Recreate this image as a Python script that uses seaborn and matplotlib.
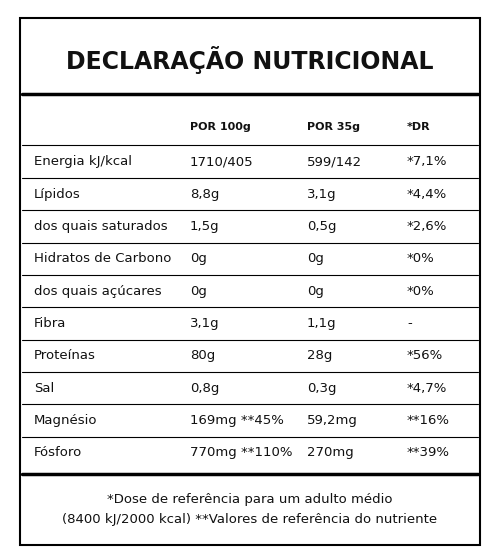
import matplotlib
matplotlib.use("Agg")
import matplotlib.pyplot as plt
import seaborn as sns

sns.set_theme(style="white")
plt.rcParams['font.family'] = ['Liberation Sans Narrow', 'DejaVu Sans']

title = "DECLARAÇÃO NUTRICIONAL"
headers = ["POR 100g", "POR 35g", "*DR"]
nutrients = ["Energia kJ/kcal", "Lípidos", "dos quais saturados", "Hidratos de Carbono",
             "dos quais açúcares", "Fibra", "Proteínas", "Sal", "Magnésio", "Fósforo"]
per100 = ["1710/405", "8,8g", "1,5g", "0g", "0g", "3,1g", "80g", "0,8g", "169mg **45%", "770mg **110%"]
per35 = ["599/142", "3,1g", "0,5g", "0g", "0g", "1,1g", "28g", "0,3g", "59,2mg", "270mg"]
dr = ["*7,1%", "*4,4%", "*2,6%", "*0%", "*0%", "-", "*56%", "*4,7%", "**16%", "**39%"]
footnote = ["*Dose de referência para um adulto médio",
            "(8400 kJ/2000 kcal) **Valores de referência do nutriente"]

fig = plt.figure(figsize=(5, 5.6), dpi=100)
ax = fig.add_axes([0, 0, 1, 1])
ax.set_xlim(0, 500)
ax.set_ylim(560, 0)
ax.axis("off")

ax.add_patch(plt.Rectangle((20, 18), 460, 527, fill=False, lw=1.5, color="black"))
ax.text(250, 60, title, ha="center", va="center", fontsize=17, fontweight="bold", color="#111")
ax.plot([22, 478], [94, 94], color="black", lw=2.5)

cols = [190, 307, 407]
for x, h in zip(cols, headers):
    ax.text(x, 127, h, ha="left", va="center", fontsize=8, fontweight="bold", color="#111")
ax.plot([22, 478], [145, 145], color="black", lw=0.8)

y0, dy = 162, 32.3
for i, name in enumerate(nutrients):
    y = y0 + i * dy
    ax.text(34, y, name, ha="left", va="center", fontsize=9.5, color="#111")
    ax.text(cols[0], y, per100[i], ha="left", va="center", fontsize=9.5, color="#111")
    ax.text(cols[1], y, per35[i], ha="left", va="center", fontsize=9.5, color="#111")
    ax.text(cols[2], y, dr[i], ha="left", va="center", fontsize=9.5, color="#111")
    if i < len(nutrients) - 1:
        ax.plot([22, 478], [y + dy / 2, y + dy / 2], color="black", lw=0.8)
ax.plot([22, 478], [474, 474], color="black", lw=2.5)

ax.text(250, 499, footnote[0], ha="center", va="center", fontsize=9.5, color="#111")
ax.text(250, 520, footnote[1], ha="center", va="center", fontsize=9.5, color="#111")

fig.savefig("out.png", dpi=100)
